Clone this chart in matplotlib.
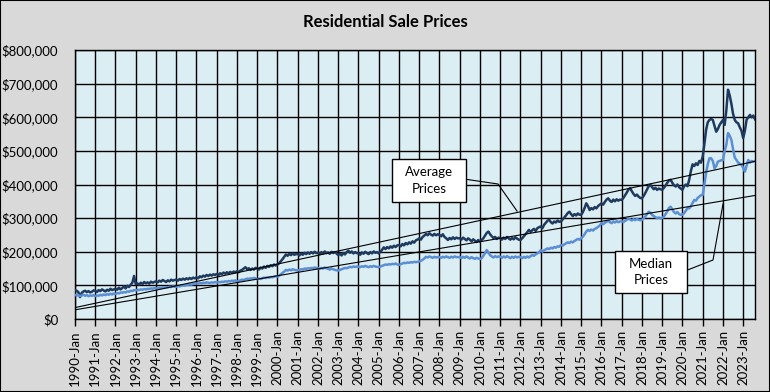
import numpy as np
import matplotlib
matplotlib.use("Agg")
import matplotlib.pyplot as plt
from matplotlib.patches import Rectangle
from matplotlib.ticker import FuncFormatter

# ---------------- data (thousands of $) ----------------
years = list(range(1990, 2024))
tick_labels = [f"{y}-Jan" for y in years]

avg_prices_k = [
    86, 84, 80, 65, 78, 82, 84, 80, 83, 79, 81, 85,          # 1990
    84, 80, 86, 83, 88, 85, 82, 87, 84, 90, 86, 88,          # 1991
    90, 87, 93, 88, 92, 97, 91, 99, 95, 102, 108, 128,       # 1992
    104, 106, 102, 108, 104, 110, 106, 109, 105, 111, 108, 110,  # 1993
    112, 109, 114, 111, 116, 113, 110, 115, 112, 117, 114, 116,  # 1994
    117, 114, 119, 116, 120, 117, 121, 118, 122, 119, 123, 121,  # 1995
    124, 121, 127, 124, 129, 126, 131, 128, 132, 129, 133, 131,  # 1996
    134, 131, 136, 133, 138, 135, 139, 136, 140, 137, 141, 139,  # 1997
    142, 139, 144, 146, 150, 154, 148, 151, 146, 150, 147, 152,  # 1998
    150, 147, 153, 150, 156, 152, 158, 155, 160, 157, 162, 159,  # 1999
    162, 166, 172, 178, 185, 192, 188, 194, 190, 195, 191, 193,  # 2000
    193, 189, 195, 191, 197, 193, 198, 194, 199, 195, 200, 196,  # 2001
    197, 193, 199, 195, 201, 196, 198, 194, 200, 196, 199, 195,  # 2002
    190, 194, 189, 196, 192, 199, 203, 197, 201, 195, 199, 196,  # 2003
    195, 191, 198, 194, 200, 196, 193, 199, 195, 201, 197, 199,  # 2004
    195, 200, 206, 213, 208, 214, 210, 216, 212, 218, 214, 219,  # 2005
    220, 216, 223, 219, 226, 222, 228, 224, 231, 227, 234, 236,  # 2006
    240, 236, 244, 248, 253, 249, 255, 251, 248, 253, 249, 252,  # 2007
    250, 246, 252, 244, 240, 235, 241, 237, 243, 238, 242, 240,  # 2008
    240, 236, 242, 238, 234, 240, 236, 231, 237, 233, 229, 235,  # 2009
    230, 235, 240, 248, 256, 260, 252, 246, 241, 244, 238, 242,  # 2010
    240, 236, 242, 238, 244, 240, 236, 241, 237, 243, 239, 236,  # 2011
    235, 240, 246, 252, 258, 265, 259, 264, 268, 262, 270, 273,  # 2012
    275, 270, 280, 286, 292, 295, 288, 284, 290, 287, 293, 289,  # 2013
    290, 296, 302, 308, 315, 319, 312, 306, 312, 308, 314, 310,  # 2014
    310, 318, 330, 344, 336, 324, 330, 326, 333, 329, 336, 340,  # 2015
    344, 340, 348, 355, 359, 352, 348, 355, 350, 356, 352, 355,  # 2016
    354, 360, 368, 376, 385, 389, 380, 372, 366, 370, 364, 360,  # 2017
    359, 366, 375, 385, 395, 399, 392, 386, 390, 384, 388, 386,  # 2018
    384, 390, 397, 405, 412, 414, 405, 398, 394, 400, 392, 388,  # 2019
    384, 395, 400, 395, 414, 440, 460, 455, 463, 458, 470, 465,  # 2020
    483, 520, 562, 585, 592, 595, 592, 575, 557, 565, 577, 585,  # 2021
    592, 577, 620, 682, 665, 640, 610, 592, 585, 582, 570, 560,  # 2022
    538, 560, 592, 600, 607, 600, 605, 594,                      # 2023
]

median_prices_k = [
    72, 70, 71, 68, 70, 72, 69, 71, 68, 70, 69, 71,          # 1990
    68, 70, 69, 72, 70, 73, 71, 74, 72, 75, 73, 76,          # 1991
    75, 77, 76, 79, 78, 80, 79, 82, 81, 84, 83, 86,          # 1992
    85, 87, 86, 88, 87, 89, 88, 90, 89, 91, 90, 92,          # 1993
    91, 92, 93, 92, 94, 93, 95, 94, 96, 95, 97, 96,          # 1994
    96, 98, 97, 99, 100, 99, 101, 102, 103, 102, 104, 105,   # 1995
    106, 105, 107, 106, 108, 107, 109, 108, 107, 109, 108, 110,  # 1996
    108, 110, 109, 111, 110, 112, 111, 113, 112, 114, 113, 115,  # 1997
    111, 113, 115, 117, 116, 118, 120, 119, 121, 120, 122, 121,  # 1998
    118, 120, 119, 121, 123, 122, 124, 123, 125, 124, 126, 127,  # 1999
    126, 129, 133, 137, 141, 146, 144, 147, 145, 148, 146, 145,  # 2000
    144, 146, 148, 147, 150, 149, 151, 150, 152, 151, 153, 152,  # 2001
    151, 149, 152, 150, 153, 151, 149, 147, 150, 148, 146, 145,  # 2002
    144, 146, 148, 150, 152, 151, 153, 155, 154, 156, 155, 156,  # 2003
    156, 154, 157, 155, 158, 156, 154, 157, 155, 158, 156, 155,  # 2004
    154, 156, 158, 160, 162, 161, 163, 162, 164, 163, 165, 162,  # 2005
    161, 163, 165, 167, 166, 168, 167, 169, 168, 170, 169, 170,  # 2006
    171, 173, 176, 180, 185, 183, 186, 184, 182, 185, 183, 184,  # 2007
    184, 182, 185, 183, 186, 184, 182, 185, 183, 186, 184, 184,  # 2008
    184, 181, 185, 182, 186, 183, 180, 184, 181, 179, 182, 180,  # 2009
    178, 181, 188, 196, 205, 198, 190, 186, 183, 187, 184, 186,  # 2010
    185, 182, 186, 183, 187, 184, 181, 185, 182, 186, 183, 185,  # 2011
    184, 181, 185, 182, 186, 183, 187, 190, 188, 192, 195, 198,  # 2012
    205, 200, 204, 207, 210, 208, 212, 210, 214, 212, 216, 215,  # 2013
    220, 218, 222, 225, 228, 226, 230, 228, 232, 235, 238, 236,  # 2014
    240, 245, 252, 260, 265, 262, 266, 263, 268, 270, 274, 278,  # 2015
    285, 282, 286, 289, 292, 288, 285, 290, 287, 291, 288, 290,  # 2016
    290, 288, 292, 295, 298, 296, 293, 297, 294, 298, 295, 294,  # 2017
    295, 299, 305, 312, 319, 316, 310, 306, 303, 300, 302, 300,  # 2018
    300, 305, 312, 320, 330, 334, 326, 318, 314, 318, 312, 310,  # 2019
    310, 315, 322, 330, 329, 335, 345, 354, 352, 360, 364, 368,  # 2020
    369, 400, 434, 460, 478, 478, 470, 448, 455, 468, 470, 472,  # 2021
    473, 500, 518, 553, 545, 533, 505, 480, 473, 465, 462, 458,  # 2022
    450, 438, 455, 473, 465, 470, 468, 470,                      # 2023
]

avg_prices = np.array(avg_prices_k) * 1000.0
median_prices = np.array(median_prices_k) * 1000.0
n = len(avg_prices)
idx = np.arange(n)

# linear trendlines (as Excel computes them)
avg_fit = np.polyfit(idx, avg_prices, 1)
med_fit = np.polyfit(idx, median_prices, 1)

# ---------------- styling ----------------
FONT = ["Lato", "DejaVu Sans"]
plt.rcParams["font.family"] = FONT

W, H = 770, 392
fig = plt.figure(figsize=(W / 100, H / 100), dpi=100)
fig.patch.set_facecolor("#d9d9d9")

L, R, T, B = 75, 755, 50, 319
ax = fig.add_axes([L / W, 1 - B / H, (R - L) / W, (B - T) / H])
ax.set_facecolor("#dbeef4")

ax.plot(idx, avg_prices, color="#1f3a5f", lw=1.8, zorder=3)
ax.plot(idx, median_prices, color="#5a8fd6", lw=1.8, zorder=3)
ax.plot(idx, np.polyval(avg_fit, idx), color="black", lw=0.8, zorder=4)
ax.plot(idx, np.polyval(med_fit, idx), color="black", lw=0.8, zorder=4)

ax.set_xlim(0, n - 1)
ax.set_ylim(0, 800000)
ax.set_yticks(np.arange(0, 800001, 100000))
ax.yaxis.set_major_formatter(FuncFormatter(lambda v, p: f"${v:,.0f}"))
ax.set_xticks(np.arange(0, n, 12))
ax.set_xticklabels(tick_labels, rotation=90)

ax.grid(True, color="black", lw=1.0, zorder=1)
ax.set_axisbelow(True)
for s in ax.spines.values():
    s.set_color("black")
    s.set_linewidth(1.0)

ax.tick_params(axis="x", length=5, width=1.0, color="black", pad=3,
               labelsize=9.5, direction="out")
ax.tick_params(axis="y", length=0, pad=12, labelsize=9.5)

fig.text(0.5, 1 - 22 / H, "Residential Sale Prices", ha="center",
         va="center", fontsize=12, fontweight="bold")


def to_ax(px, py):
    return (px - L) / (R - L), (B - py) / (B - T)


# annotation boxes
def box(x0, y0, x1, y1, label):
    ax0, ay1 = to_ax(x0, y0)
    ax1_, ay0 = to_ax(x1, y1)
    ax.add_patch(Rectangle((ax0, ay0), ax1_ - ax0, ay1 - ay0,
                           transform=ax.transAxes, facecolor="white",
                           edgecolor="black", lw=1.0, zorder=6))
    ax.text((ax0 + ax1_) / 2, (ay0 + ay1) / 2, label, transform=ax.transAxes,
            ha="center", va="center", fontsize=9.5, linespacing=1.45,
            zorder=7)


def leader(pts):
    xs, ys = zip(*[to_ax(*p) for p in pts])
    ax.plot(xs, ys, color="black", lw=0.8, transform=ax.transAxes, zorder=5)


box(392, 159, 466, 202, "Average\nPrices")
leader([(464, 179), (498, 184), (517, 211)])
box(615, 251, 687, 293, "Median\nPrices")
leader([(685, 271), (713, 260), (723, 204)])

fig.add_artist(Rectangle((0, 0), 1, 1, transform=fig.transFigure,
                         fill=False, edgecolor="black", lw=1.5))

fig.savefig("out.png", dpi=100, facecolor=fig.get_facecolor())
